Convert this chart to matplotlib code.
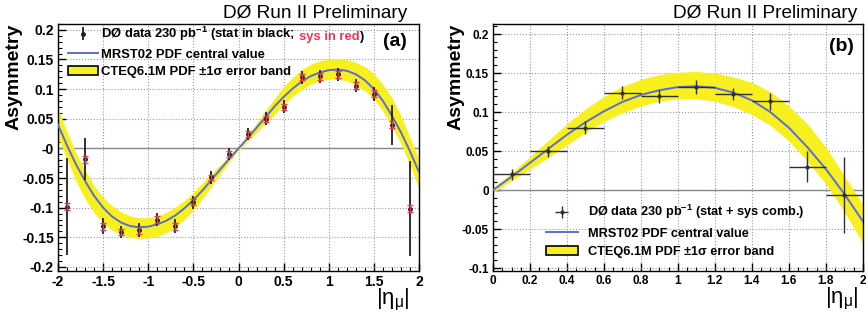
import matplotlib
matplotlib.use("Agg")
import matplotlib.pyplot as plt
import numpy as np
from matplotlib.patches import Patch
from matplotlib.lines import Line2D
from matplotlib.ticker import MultipleLocator
# =========================================================================== #

plt.rcParams['font.family'] = ['Liberation Sans', 'DejaVu Sans']
plt.rcParams['mathtext.fontset'] = 'custom'
plt.rcParams['mathtext.rm'] = 'Liberation Sans'
plt.rcParams['mathtext.it'] = 'Liberation Sans:italic'
plt.rcParams['mathtext.bf'] = 'Liberation Sans:bold'
plt.rcParams['axes.unicode_minus'] = False

# theory predictions vs |eta|
eta_grid = [0.0, 0.1, 0.2, 0.3, 0.4, 0.5, 0.6, 0.7, 0.8, 0.9, 1.0,
            1.1, 1.2, 1.3, 1.4, 1.5, 1.6, 1.7, 1.8, 1.9, 2.0]
mrst = [0.0, 0.017, 0.035, 0.053, 0.071, 0.087, 0.101, 0.113, 0.122, 0.128, 0.132,
        0.133, 0.131, 0.125, 0.115, 0.100, 0.080, 0.055, 0.027, -0.005, -0.040]
cteq_lo = [-0.003, 0.012, 0.027, 0.042, 0.058, 0.074, 0.088, 0.099, 0.108, 0.114, 0.117,
           0.117, 0.114, 0.107, 0.097, 0.083, 0.063, 0.037, 0.008, -0.028, -0.068]
cteq_hi = [0.003, 0.022, 0.043, 0.064, 0.085, 0.104, 0.120, 0.133, 0.142, 0.148, 0.151,
           0.152, 0.150, 0.145, 0.138, 0.126, 0.108, 0.085, 0.055, 0.018, -0.018]

# panel (a): signed eta, stat and sys errors separately
eta_a = [-1.9, -1.7, -1.5, -1.3, -1.1, -0.9, -0.7, -0.5, -0.3, -0.1,
         0.1, 0.3, 0.5, 0.7, 0.9, 1.1, 1.3, 1.5, 1.7, 1.9]
asym_a = [-0.098, -0.018, -0.131, -0.141, -0.138, -0.120, -0.131, -0.091, -0.049, -0.010,
          0.025, 0.050, 0.070, 0.120, 0.122, 0.125, 0.106, 0.092, 0.040, -0.102]
stat_a = [0.082, 0.035, 0.014, 0.010, 0.012, 0.011, 0.012, 0.011, 0.011, 0.010,
          0.010, 0.011, 0.011, 0.011, 0.011, 0.011, 0.011, 0.012, 0.034, 0.080]
sys_a = [0.006, 0.006, 0.006, 0.005, 0.006, 0.006, 0.006, 0.005, 0.005, 0.005,
         0.005, 0.005, 0.005, 0.005, 0.006, 0.006, 0.006, 0.006, 0.006, 0.006]

# panel (b): |eta|, combined errors
eta_b = [0.1, 0.3, 0.5, 0.7, 0.9, 1.1, 1.3, 1.5, 1.7, 1.9]
asym_b = [0.020, 0.050, 0.080, 0.125, 0.120, 0.132, 0.123, 0.114, 0.030, -0.006]
err_b = [0.0075, 0.007, 0.008, 0.008, 0.008, 0.009, 0.008, 0.011, 0.020, 0.049]
bin_half = [0.1] * len(eta_b)

yel = '#f7ef1e'
blu = '#5a6ed6'
red = '#e8384f'


def style_axes(ax, xt, xlab, yt, ylab, xminor, tsize, title_x):
    ax.set_xticks(xt)
    ax.set_xticklabels(xlab, fontsize=tsize, fontweight='bold')
    ax.set_yticks(yt)
    ax.set_yticklabels(ylab, fontsize=tsize, fontweight='bold')
    ax.xaxis.set_minor_locator(MultipleLocator(xminor))
    ax.yaxis.set_minor_locator(MultipleLocator(0.01))
    ax.tick_params(which='major', direction='in', length=6, width=1, pad=3)
    ax.tick_params(which='minor', direction='in', length=3, width=0.8)
    ax.grid(True, which='major', color='#9a9a9a', linestyle=':', linewidth=0.8)
    ax.set_axisbelow(True)
    for s in ax.spines.values():
        s.set_linewidth(1.0)
    ax.axhline(0, color='#8a8a8a', linewidth=1.0, zorder=1)
    ax.set_ylabel('Asymmetry', fontsize=14, fontweight='bold', loc='top')
    ax.set_xlabel(r'|η$_{\mathrm{μ}}$|', fontsize=16, loc='right')
    ax.text(title_x, 1.008, 'DØ Run II Preliminary', transform=ax.transAxes,
            ha='right', va='bottom', fontsize=13.7)


fig = plt.figure(figsize=(8.68, 3.19), dpi=100)
ax1 = fig.add_axes([0.0668, 0.150, 0.416, 0.775])
ax2 = fig.add_axes([0.568, 0.150, 0.426, 0.775])

# ---- panel (a)
xa = np.array(eta_grid)
neg_x = -xa[::-1]
ax1.fill_between(np.concatenate([neg_x, xa[1:]]),
                 np.concatenate([-np.array(cteq_hi)[::-1], np.array(cteq_lo)[1:]]),
                 np.concatenate([-np.array(cteq_lo)[::-1], np.array(cteq_hi)[1:]]),
                 color=yel, linewidth=0, zorder=2)
ax1.plot(np.concatenate([neg_x, xa[1:]]),
         np.concatenate([-np.array(mrst)[::-1], np.array(mrst)[1:]]),
         color=blu, linewidth=1.4, zorder=3)
stat = ax1.errorbar(eta_a, asym_a, yerr=stat_a, fmt='o', color='#202020', markersize=2.5,
                    elinewidth=1.3, capsize=0, zorder=4)
ax1.errorbar(eta_a, asym_a, yerr=sys_a, fmt='none', ecolor=red, elinewidth=1.0,
             capsize=2.0, capthick=1.0, zorder=5)
ax1.set_xlim(-2, 2)
ax1.set_ylim(-0.207, 0.21)
style_axes(ax1, [-2, -1.5, -1, -0.5, 0, 0.5, 1, 1.5, 2],
           ['-2', '-1.5', '-1', '-0.5', '0', '0.5', '1', '1.5', '2'],
           [0.2, 0.15, 0.1, 0.05, 0, -0.05, -0.1, -0.15, -0.2],
           ['0.2', '0.15', '0.1', '0.05', '-0', '-0.05', '-0.1', '-0.15', '-0.2'],
           0.1, 10, 0.968)
ax1.yaxis.set_label_coords(-0.097, 1.0)
ax1.xaxis.set_label_coords(0.975, -0.065)
ax1.text(0.965, 0.93, '(a)', transform=ax1.transAxes, ha='right', va='center',
         fontsize=14, fontweight='bold')

handles = [stat, Line2D([], [], color=blu, linewidth=1.4),
           Patch(facecolor=yel, edgecolor='black', linewidth=1.2)]
labels = [r'DØ data 230 pb$^{\mathbf{-1}}$ (stat in black;',
          'MRST02 PDF central value', 'CTEQ6.1M PDF ±1σ error band']
leg1 = ax1.legend(handles, labels, loc='upper left', bbox_to_anchor=(0.028, 0.995),
                  frameon=False, borderpad=0, borderaxespad=0, handlelength=2.3,
                  handletextpad=0.2, labelspacing=0.4,
                  prop={'size': 9.4, 'weight': 'bold'})
leg1.set_zorder(6)
t1 = leg1.get_texts()[0]
t2 = ax1.annotate('sys in red', xy=(1, 0), xycoords=t1, xytext=(3, 0),
                  textcoords='offset points', ha='left', va='bottom',
                  fontsize=9.4, fontweight='bold', color=red, zorder=10)
ax1.annotate(')', xy=(1, 0), xycoords=t2, ha='left', va='bottom',
             fontsize=9.4, fontweight='bold', color='black', zorder=11)

# ---- panel (b)
ax2.fill_between(eta_grid, cteq_lo, cteq_hi, color=yel, linewidth=0, zorder=2)
ax2.plot(eta_grid, mrst, color=blu, linewidth=1.4, zorder=3)
comb = ax2.errorbar(eta_b, asym_b, xerr=bin_half, yerr=err_b, fmt='o', color='#303030',
                    markersize=2, elinewidth=1.0, capsize=0, zorder=4)
ax2.set_xlim(0, 2)
ax2.set_ylim(-0.104, 0.213)
style_axes(ax2, [0, 0.2, 0.4, 0.6, 0.8, 1.0, 1.2, 1.4, 1.6, 1.8, 2.0],
           ['0', '0.2', '0.4', '0.6', '0.8', '1', '1.2', '1.4', '1.6', '1.8', '2'],
           [0.2, 0.15, 0.1, 0.05, 0, -0.05, -0.1],
           ['0.2', '0.15', '0.1', '0.05', '0', '-0.05', '-0.1'],
           0.05, 8.5, 0.985)
ax2.yaxis.set_label_coords(-0.076, 1.0)
ax2.xaxis.set_label_coords(0.99, -0.06)
ax2.text(0.975, 0.91, '(b)', transform=ax2.transAxes, ha='right', va='center',
         fontsize=14, fontweight='bold')

handles2 = [comb, Line2D([], [], color=blu, linewidth=1.4),
            Patch(facecolor=yel, edgecolor='black', linewidth=1.2)]
labels2 = [r'DØ data 230 pb$^{\mathbf{-1}}$ (stat + sys comb.)',
           'MRST02 PDF central value', 'CTEQ6.1M PDF ±1σ error band']
ax2.legend(handles2, labels2, loc='upper left', bbox_to_anchor=(0.143, 0.275),
           frameon=False, borderpad=0, borderaxespad=0, handlelength=2.5,
           handletextpad=0.8, labelspacing=0.5,
           prop={'size': 9.2, 'weight': 'bold'})

fig.canvas.draw()
plt.savefig('out.png', dpi=100)
